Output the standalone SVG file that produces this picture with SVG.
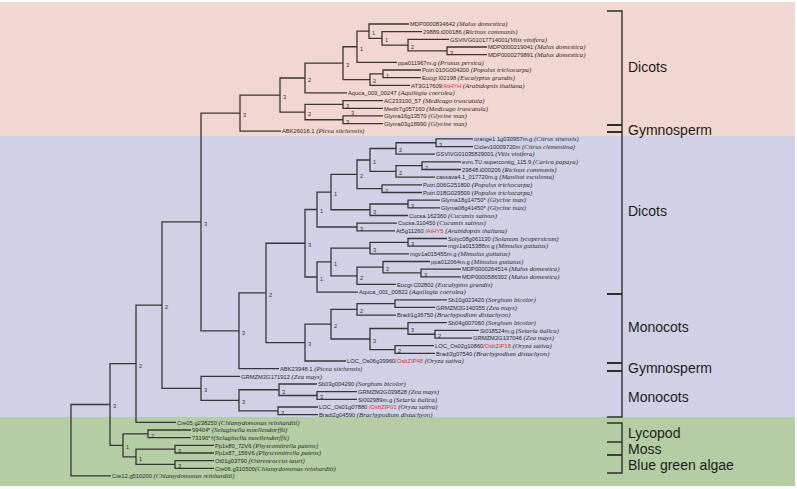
<svg xmlns="http://www.w3.org/2000/svg" width="797" height="489" viewBox="0 0 797 489">
<style>
.id{font-family:"Liberation Sans",Arial,sans-serif;font-size:5.8px;fill:#2a2a2a}
.sp{font-family:"Liberation Serif","Times New Roman",serif;font-style:italic;font-size:6.8px;fill:#2a2a2a}
.r{fill:#e3302c}
.n{font-family:"Liberation Sans",Arial,sans-serif;font-size:5.6px;fill:#333}
.cl{font-family:"Liberation Sans",Arial,sans-serif;font-size:14px;fill:#1c1c1c}
.tree path{fill:none;stroke:#363636;stroke-width:1.3}
.br path{fill:none;stroke:#2e2e2e;stroke-width:1.4}
</style>
<rect width="797" height="489" fill="#ffffff"/>
<g id="bands">
<rect x="0" y="2" width="795" height="134" fill="#f2d6d1"/>
<rect x="0" y="136" width="795" height="281" fill="#d0d0e7"/>
<rect x="0" y="417" width="795" height="69" fill="#b4cda5"/>
</g>
<g id="connectors" class="tree">
<path d="M487,47 H447 V54.6 H487"/>
<path d="M449,39.3 H408 V50.8 H447"/>
<path d="M422,31.7 H382 V45.05 H408"/>
<path d="M409,24 H369 V38.4 H382"/>
<path d="M369,31.2 H357 V62.3 H397"/>
<path d="M421,70 H383 V77.6 H421"/>
<path d="M383,73.8 H370 V85.3 H410"/>
<path d="M357,46.75 H343 V79.55 H370"/>
<path d="M343,63.15 H305 V92.9 H347"/>
<path d="M383,100.6 H343 V108.3 H383"/>
<path d="M383,115.9 H343 V123.6 H383"/>
<path d="M343,104.45 H305 V119.75 H343"/>
<path d="M305,78 H280 V112.1 H305"/>
<path d="M280,95.05 H240 V131.2 H281"/>
<path d="M240,113.1 H201 V330.8 H239"/>
<path d="M473,138.9 H436 V146.6 H473"/>
<path d="M436,142.75 H396 V154.2 H435"/>
<path d="M461,161.9 H422 V169.5 H461"/>
<path d="M422,165.7 H396 V177.2 H435"/>
<path d="M396,148.5 H370 V171.45 H396"/>
<path d="M422,184.9 H382 V192.5 H422"/>
<path d="M370,160 H357 V188.7 H382"/>
<path d="M440,200.2 H408 V207.8 H440"/>
<path d="M408,204 H370 V215.5 H408"/>
<path d="M357,174.35 H331 V209.75 H370"/>
<path d="M397,223.2 H357 V230.8 H395"/>
<path d="M331,192.05 H317 V227 H357"/>
<path d="M447,238.5 H408 V246.1 H447"/>
<path d="M408,242.3 H370 V253.8 H409"/>
<path d="M461,269.1 H421 V276.8 H461"/>
<path d="M430,261.5 H383 V272.95 H421"/>
<path d="M383,267.2 H357 V284.4 H396"/>
<path d="M370,248.05 H331 V275.8 H357"/>
<path d="M331,261.9 H317 V292.1 H358"/>
<path d="M317,209.5 H305 V277 H317"/>
<path d="M447,299.8 H395 V307.4 H435"/>
<path d="M395,303.6 H357 V315.1 H396"/>
<path d="M479,330.4 H435 V338.1 H472"/>
<path d="M447,322.7 H408 V334.25 H435"/>
<path d="M434,345.7 H395 V353.4 H435"/>
<path d="M408,328.5 H370 V349.55 H395"/>
<path d="M357,309.35 H331 V339 H370"/>
<path d="M331,324.2 H305 V361 H346"/>
<path d="M305,243.25 H266 V342.6 H305"/>
<path d="M266,292.9 H239 V368.7 H279"/>
<path d="M357,391.7 H317 V399.3 H357"/>
<path d="M317,384 H279 V395.5 H317"/>
<path d="M318,407 H278 V414.7 H318"/>
<path d="M279,389.75 H239 V410.85 H278"/>
<path d="M240,376.4 H201 V400.3 H239"/>
<path d="M201,221.95 H162 V388.35 H201"/>
<path d="M162,305.15 H136 V422.3 H176"/>
<path d="M191,430 H148 V437.6 H191"/>
<path d="M214,445.3 H175 V453 H214"/>
<path d="M214,460.6 H175 V468.3 H214"/>
<path d="M175,449.15 H136 V464.45 H175"/>
<path d="M148,433.8 H123 V456.8 H136"/>
<path d="M136,363.7 H110 V445.3 H123"/>
<path d="M110,404.5 H71 V475.9 H111"/>
</g>
<g id="node-labels" class="n">
<text x="450" y="54.6">3</text>
<text x="411" y="48.9">2</text>
<text x="385" y="42.2">1</text>
<text x="372" y="35">1</text>
<text x="360" y="50.5">1</text>
<text x="386" y="77.6">1</text>
<text x="373" y="83.4">2</text>
<text x="346" y="67">3</text>
<text x="308" y="81.8">2</text>
<text x="346" y="108.3">3</text>
<text x="346" y="123.6">3</text>
<text x="351" y="114.5">3</text>
<text x="308" y="115.9">2</text>
<text x="283" y="98.9">3</text>
<text x="243" y="116.9">3</text>
<text x="204" y="225.8">3</text>
<text x="439" y="146.6">3</text>
<text x="399" y="152.3">2</text>
<text x="425" y="169.5">2</text>
<text x="399" y="175.3">2</text>
<text x="373" y="163.8">1</text>
<text x="385" y="192.5">2</text>
<text x="360" y="178.2">2</text>
<text x="411" y="207.8">3</text>
<text x="373" y="213.6">3</text>
<text x="334" y="195.9">1</text>
<text x="360" y="230.8">3</text>
<text x="320" y="213.3">1</text>
<text x="411" y="246.1">3</text>
<text x="373" y="251.9">3</text>
<text x="424" y="276.8">3</text>
<text x="386" y="271">2</text>
<text x="360" y="279.6">2</text>
<text x="334" y="265.7">1</text>
<text x="320" y="280.8">1</text>
<text x="308" y="247.1">3</text>
<text x="360" y="313.2">2</text>
<text x="438" y="338.1">2</text>
<text x="411" y="332.3">3</text>
<text x="398" y="353.4">2</text>
<text x="373" y="342.8">3</text>
<text x="334" y="328">2</text>
<text x="308" y="346.4">3</text>
<text x="269" y="296.7">2</text>
<text x="242" y="334.6">3</text>
<text x="320" y="399.3">3</text>
<text x="282" y="393.6">3</text>
<text x="281" y="414.7">3</text>
<text x="242" y="404.1">3</text>
<text x="204" y="392.2">3</text>
<text x="165" y="309">2</text>
<text x="139" y="367.5">2</text>
<text x="151" y="437.6">2</text>
<text x="178" y="453">3</text>
<text x="178" y="468.3">3</text>
<text x="139" y="460.6">1</text>
<text x="126" y="449.1">1</text>
<text x="113" y="408.3">3</text>
</g>
<g id="leaves" class="id">
<g id="leaf0"><text x="410" y="26.2">MDP0000834642 <tspan class="sp">(Malus domestica)</tspan></text></g>
<g id="leaf1"><text x="423" y="33.9">29889.t000186 <tspan class="sp">(Ricinus communis)</tspan></text></g>
<g id="leaf2"><text x="450" y="41.5">GSVIVG01017714001<tspan class="sp">(Vitis vinifera)</tspan></text></g>
<g id="leaf3"><text x="488" y="49.2">MDP0000219041 <tspan class="sp">(Malus domestica)</tspan></text></g>
<g id="leaf4"><text x="488" y="56.8">MDP0000279891 <tspan class="sp">(Malus domestica)</tspan></text></g>
<g id="leaf5"><text x="398" y="64.5">ppa011967m.g <tspan class="sp">(Prunus persica)</tspan></text></g>
<g id="leaf6"><text x="422" y="72.2">Potri.010G004200 <tspan class="sp">(Populus trichocarpa)</tspan></text></g>
<g id="leaf7"><text x="422" y="79.8">Eucgr.I02198 <tspan class="sp">(Eucalyptus grandis)</tspan></text></g>
<g id="leaf8"><text x="411" y="87.5">AT3G17609<tspan class="r">/AtHYH</tspan> <tspan class="sp">(Arabidopsis thaliana)</tspan></text></g>
<g id="leaf9"><text x="348" y="95.1">Aquca_003_00247 <tspan class="sp">(Aquilegia coerulea)</tspan></text></g>
<g id="leaf10"><text x="384" y="102.8">AC233100_57 <tspan class="sp">(Medicago truncatula)</tspan></text></g>
<g id="leaf11"><text x="384" y="110.5">Medtr7g057160 <tspan class="sp">(Medicago truncatula)</tspan></text></g>
<g id="leaf12"><text x="384" y="118.1">Glyma16g13570 <tspan class="sp">(Glycine max)</tspan></text></g>
<g id="leaf13"><text x="384" y="125.8">Glyma03g18990 <tspan class="sp">(Glycine max)</tspan></text></g>
<g id="leaf14"><text x="282" y="133.4">ABK26016.1 <tspan class="sp">(Picea sitchensis)</tspan></text></g>
<g id="leaf15"><text x="474" y="141.1">orange1.1g030957m.g <tspan class="sp">(Citrus sinensis)</tspan></text></g>
<g id="leaf16"><text x="474" y="148.8">Ciclev10009720m <tspan class="sp">(Citrus clementina)</tspan></text></g>
<g id="leaf17"><text x="436" y="156.4">GSVIVG01035829001 <tspan class="sp">(Vitis vinifera)</tspan></text></g>
<g id="leaf18"><text x="462" y="164.1">evm.TU.supercontig_115.9 <tspan class="sp">(Carica papaya)</tspan></text></g>
<g id="leaf19"><text x="462" y="171.7">29848.t000206 <tspan class="sp">(Ricinus communis)</tspan></text></g>
<g id="leaf20"><text x="436" y="179.4">cassava4.1_017720m.g <tspan class="sp">(Manihot esculenta)</tspan></text></g>
<g id="leaf21"><text x="423" y="187.1">Potri.006G251800 <tspan class="sp">(Populus trichocarpa)</tspan></text></g>
<g id="leaf22"><text x="423" y="194.7">Potri.018G029500 <tspan class="sp">(Populus trichocarpa)</tspan></text></g>
<g id="leaf23"><text x="441" y="202.4">Glyma18g14750* <tspan class="sp">(Glycine max)</tspan></text></g>
<g id="leaf24"><text x="441" y="210">Glyma08g41450* <tspan class="sp">(Glycine max)</tspan></text></g>
<g id="leaf25"><text x="409" y="217.7">Cucsa.162360 <tspan class="sp">(Cucumis sativus)</tspan></text></g>
<g id="leaf26"><text x="398" y="225.4">Cucsa.310450 <tspan class="sp">(Cucumis sativus)</tspan></text></g>
<g id="leaf27"><text x="396" y="233">At5g11260 <tspan class="r">/AtHY5</tspan> <tspan class="sp">(Arabidopsis thaliana)</tspan></text></g>
<g id="leaf28"><text x="448" y="240.7">Solyc08g061130 <tspan class="sp">(Solanum lycopersicum)</tspan></text></g>
<g id="leaf29"><text x="448" y="248.3">mgv1a015388m.g <tspan class="sp">(Mimulus guttatus)</tspan></text></g>
<g id="leaf30"><text x="410" y="256">mgv1a015455m.g <tspan class="sp">(Mimulus guttatus)</tspan></text></g>
<g id="leaf31"><text x="431" y="263.7">ppa012064m.g <tspan class="sp">(Mimulus guttatus)</tspan></text></g>
<g id="leaf32"><text x="462" y="271.3">MDP0000264514 <tspan class="sp">(Malus domestica)</tspan></text></g>
<g id="leaf33"><text x="462" y="279">MDP0000586302 <tspan class="sp">(Malus domestica)</tspan></text></g>
<g id="leaf34"><text x="397" y="286.6">Eucgr.C02802 <tspan class="sp">(Eucalyptus grandis)</tspan></text></g>
<g id="leaf35"><text x="359" y="294.3">Aquca_001_00822 <tspan class="sp">(Aquilegia coerulea)</tspan></text></g>
<g id="leaf36"><text x="448" y="302">Sb10g023420 <tspan class="sp">(Sorghum bicolor)</tspan></text></g>
<g id="leaf37"><text x="436" y="309.6">GRMZM2G140355 <tspan class="sp">(Zea mays)</tspan></text></g>
<g id="leaf38"><text x="397" y="317.3">Bradi1g36750 <tspan class="sp">(Brachypodium distachyon)</tspan></text></g>
<g id="leaf39"><text x="448" y="324.9">Sb04g007060 <tspan class="sp">(Sorghum bicolor)</tspan></text></g>
<g id="leaf40"><text x="480" y="332.6">Si018524m.g <tspan class="sp">(Setaria italica)</tspan></text></g>
<g id="leaf41"><text x="473" y="340.3">GRMZM2G137046 <tspan class="sp">(Zea mays)</tspan></text></g>
<g id="leaf42"><text x="435" y="347.9">LOC_Os02g10860<tspan class="r">/OsbZIP18</tspan> <tspan class="sp">(Oryza sativa)</tspan></text></g>
<g id="leaf43"><text x="436" y="355.6">Bradi3g07540 <tspan class="sp">(Brachypodium distachyon)</tspan></text></g>
<g id="leaf44"><text x="347" y="363.2">LOC_Os06g39960<tspan class="r">/OsbZIP48</tspan> <tspan class="sp">(Oryza sativa)</tspan></text></g>
<g id="leaf45"><text x="280" y="370.9">ABK23948.1 <tspan class="sp">(Picea sitchensis)</tspan></text></g>
<g id="leaf46"><text x="241" y="378.6">GRMZM2G171912 <tspan class="sp">(Zea mays)</tspan></text></g>
<g id="leaf47"><text x="318" y="386.2">Sb03g004290 <tspan class="sp">(Sorghum bicolor)</tspan></text></g>
<g id="leaf48"><text x="358" y="393.9">GRMZM2G039828 <tspan class="sp">(Zea mays)</tspan></text></g>
<g id="leaf49"><text x="358" y="401.5">Si002989m.g <tspan class="sp">(Setaria italica)</tspan></text></g>
<g id="leaf50"><text x="319" y="409.2">LOC_Os01g07880 <tspan class="r">/OsbZIP01</tspan> <tspan class="sp">(Oryza sativa)</tspan></text></g>
<g id="leaf51"><text x="319" y="416.9">Bradi2g04590 <tspan class="sp">(Brachypodium distachyon)</tspan></text></g>
<g id="leaf52"><text x="177" y="424.5">Cre05.g238250 <tspan class="sp">(Chlamydomonas reinhardtii)</tspan></text></g>
<g id="leaf53"><text x="192" y="432.2">99404* <tspan class="sp">(Selaginella moellendorffii)</tspan></text></g>
<g id="leaf54"><text x="192" y="439.8">73196*†<tspan class="sp">(Selaginella moellendorffii)</tspan></text></g>
<g id="leaf55"><text x="215" y="447.5">Pp1s80_72V6 <tspan class="sp">(Physcomitrella patens)</tspan></text></g>
<g id="leaf56"><text x="215" y="455.2">Pp1s87_156V6 <tspan class="sp">(Physcomitrella patens)</tspan></text></g>
<g id="leaf57"><text x="215" y="462.8">Ot01g03790 <tspan class="sp">(Ostreococcus tauri)</tspan></text></g>
<g id="leaf58"><text x="215" y="470.5">Cre06.g310500<tspan class="sp">(Chlamydomonas reinhardtii)</tspan></text></g>
<g id="leaf59"><text x="112" y="478.1">Cre12.g510200 <tspan class="sp">(Chlamydomonas reinhardtii)</tspan></text></g>
</g>
<g id="brackets" class="br">
<path d="M607,11 H622 V417 H607"/>
<path d="M607,125 H622 M607,132 H622 M607,294 H622 M607,363 H622 M607,371 H622" style="stroke-width:1.8"/>
<path d="M607,423 H622 V473 H607 M607,442 H622"/>
<path d="M607,455 H622" style="stroke-width:1.8"/>
</g>
<g id="clade-labels" class="cl">
<text x="628" y="72">Dicots</text>
<text x="628" y="135">Gymnosperm</text>
<text x="628" y="216">Dicots</text>
<text x="628" y="332">Monocots</text>
<text x="628" y="373">Gymnosperm</text>
<text x="628" y="402">Monocots</text>
<text x="628" y="438">Lycopod</text>
<text x="628" y="454">Moss</text>
<text x="628" y="470">Blue green algae</text>
</g>
</svg>
